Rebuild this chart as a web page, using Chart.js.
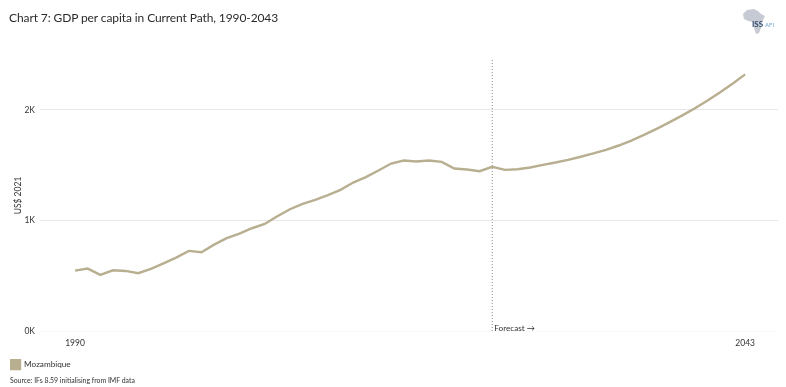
<!DOCTYPE html>
<html>
<head>
<meta charset="utf-8">
<script src="https://cdn.jsdelivr.net/npm/chart.js@4"></script>
<style>
  body { margin: 0; background: #fff; font-family: Lato, sans-serif; color: #333; }
  #wrap { position: relative; width: 786px; height: 387px; overflow: hidden; }
  #title { position: absolute; left: 9px; top: 10px; font-size: 12px; letter-spacing: -0.1px; white-space: nowrap; color: #2b2b2b; }
  #source { position: absolute; left: 10px; top: 375px; font-size: 6.9px; line-height: 10px; white-space: nowrap; }
  #logo { position: absolute; left: 740px; top: 6px; }
</style>
</head>
<body>
<div id="wrap">
  <canvas id="myChart" width="786" height="387"></canvas>
  <div id="title">Chart 7: GDP per capita in Current Path, 1990-2043</div>
  <div id="source">Source: IFs 8.59 initialising from IMF data</div>
  <svg id="logo" width="40" height="32" viewBox="0 0 40 32">
    <path d="M3 8 L7 4 L14 3 L18 5 L21 8 L25 10 L23 14 L21 18 L21 22 L19 27 L16 28 L14 22 L13 16 L8 15 L4 13 Z" fill="#c5cad3"/>
    <text x="12" y="21" font-family="Lato" font-size="8" font-weight="700" fill="#2f4a6b">ISS</text>
    <text x="25" y="21" font-family="Lato" font-size="6" fill="#6fa6d2">AFI</text>
  </svg>
</div>
<script>
const years = [1990,1991,1992,1993,1994,1995,1996,1997,1998,1999,2000,2001,2002,2003,2004,2005,2006,2007,2008,2009,2010,2011,2012,2013,2014,2015,2016,2017,2018,2019,2020,2021,2022,2023,2024,2025,2026,2027,2028,2029,2030,2031,2032,2033,2034,2035,2036,2037,2038,2039,2040,2041,2042,2043];
const mozambique = [546,564,507,549,543,522,561,612,663,724,712,781,839,881,929,968,1038,1101,1149,1186,1228,1276,1342,1391,1451,1514,1541,1532,1541,1529,1469,1460,1445,1484,1457,1462,1478,1502,1523,1547,1575,1605,1638,1677,1722,1773,1828,1886,1947,2012,2082,2157,2236,2320];
const yTicks = [0, 1000, 2000];
const xTicks = [1990, 2043];
const forecastYear = 2023;
const yMax = 2450;

const forecastLabel = {
  id: 'forecastLabel',
  afterDraw(chart) {
    const ctx = chart.ctx;
    const x = chart.scales.x.getPixelForValue(forecastYear);
    ctx.save();
    ctx.font = '8.2px Lato';
    ctx.fillStyle = '#333';
    ctx.textBaseline = 'middle';
    ctx.fillText('Forecast \u2192', x + 2, 328);
    ctx.restore();
  }
};

new Chart(document.getElementById('myChart').getContext('2d'), {
  type: 'line',
  plugins: [forecastLabel],
  data: {
    datasets: [{
      label: 'Mozambique',
      data: years.map((y, i) => ({ x: y, y: mozambique[i] })),
      borderColor: '#b8ae90',
      backgroundColor: '#b8ae90',
      borderWidth: 2.4,
      pointRadius: 0,
      tension: 0
    }, {
      label: 'Forecast',
      data: [{ x: forecastYear, y: 0 }, { x: forecastYear, y: yMax }],
      borderColor: '#8a8a8a',
      borderWidth: 1,
      borderDash: [1, 2],
      pointRadius: 0
    }]
  },
  options: {
    responsive: false,
    animation: false,
    layout: { padding: { left: 10, right: 8, top: 60, bottom: 8 } },
    plugins: {
      tooltip: { enabled: false },
      legend: {
        position: 'bottom',
        align: 'start',
        labels: {
          boxWidth: 10,
          boxHeight: 10,
          padding: 0,
          color: '#333',
          font: { family: 'Lato', size: 8.2 },
          filter: item => item.text === 'Mozambique'
        }
      }
    },
    scales: {
      x: {
        type: 'linear',
        min: 1987.23,
        max: 2045.6,
        afterBuildTicks: axis => { axis.ticks = xTicks.map(v => ({ value: v })); },
        afterFit: axis => { axis.height = 28; },
        border: { display: false },
        grid: { display: false, drawTicks: false },
        ticks: {
          maxRotation: 0,
          autoSkip: false,
          padding: 7,
          color: '#333',
          font: { family: 'Lato', size: 8.5 },
          callback: v => String(v)
        }
      },
      y: {
        min: 0,
        max: yMax,
        afterBuildTicks: axis => { axis.ticks = yTicks.map(v => ({ value: v })); },
        afterFit: axis => { axis.width = 30; },
        border: { display: false },
        grid: {
          drawTicks: false,
          color: ctx => ctx.tick.value === 0 ? '#fafafa' : '#e8e8e8'
        },
        title: {
          display: true,
          text: 'US$ 2021',
          color: '#333',
          padding: { top: 3, bottom: 0 },
          font: { family: 'Lato', size: 8.5 }
        },
        ticks: {
          padding: 5,
          color: '#333',
          font: { family: 'Lato', size: 8.5 },
          callback: v => (v / 1000) + 'K'
        }
      }
    }
  }
});
</script>
</body>
</html>
